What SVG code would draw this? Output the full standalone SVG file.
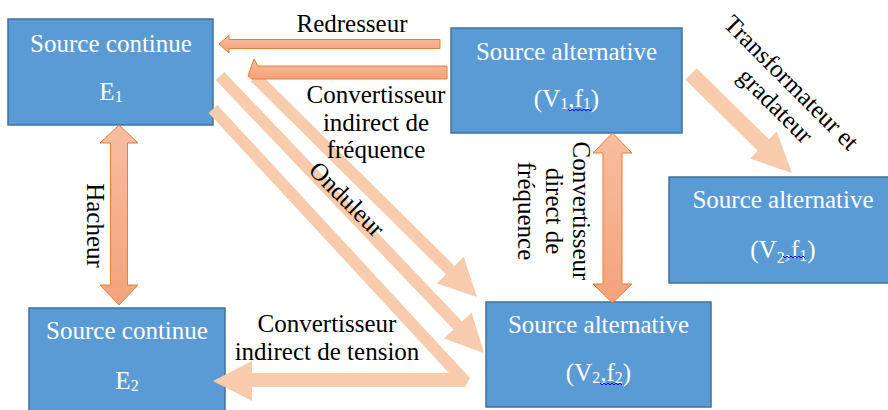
<svg xmlns="http://www.w3.org/2000/svg" width="888" height="410" viewBox="0 0 888 410">
<style>
.box{fill:#5B9BD5;stroke:#41719C;stroke-width:1.5}
.bt{font-family:"Liberation Serif","Times New Roman",serif;font-size:25px;fill:#FFFFFF;text-anchor:middle}
.lb{font-family:"Liberation Serif","Times New Roman",serif;font-size:25px;fill:#000000;text-anchor:middle}
.sub{font-size:16px}
.light{fill:#F8CBAD;stroke:none}
.dark{fill:url(#g1);stroke:#ED7D31;stroke-width:1}
.sq{fill:none;stroke:#0000FF;stroke-width:1}
</style>
<defs>
<linearGradient id="g1" x1="0" y1="0" x2="0" y2="1">
<stop offset="0" stop-color="#F6BEA1"/>
<stop offset="1" stop-color="#F4A27B"/>
</linearGradient>
</defs>
<rect width="888" height="410" fill="#FFFFFF"/>

<g id="n1">
<rect class="box" x="8" y="19" width="205" height="106"/>
<text class="bt" x="111" y="52">Source continue</text>
<text class="bt" x="111" y="100">E<tspan class="sub" dy="2">1</tspan></text>
</g>
<g id="n2">
<rect class="box" x="451" y="28" width="231" height="105"/>
<text class="bt" x="566.5" y="60">Source alternative</text>
<text class="bt" x="566.5" y="107">(V<tspan class="sub" dy="2">1</tspan><tspan dy="-2">,f</tspan><tspan class="sub" dy="2">1</tspan><tspan dy="-2">)</tspan></text>
<path class="sq" d="M568,109 l2,2 l2,-2 l2,2 l2,-2 l2,2 l2,-2 l2,2 l2,-2 l2,2 l2,-2 l2,2 l2,-2"/>
</g>
<g id="n3">
<rect class="box" x="669" y="177" width="235" height="106"/>
<text class="bt" x="783" y="208">Source alternative</text>
<text class="bt" x="783" y="258">(V<tspan class="sub" dy="5">2</tspan><tspan dy="-5">,f</tspan><tspan class="sub" dy="3">1</tspan><tspan dy="-3">)</tspan></text>
<path class="sq" d="M783,256 l2,2 l2,-2 l2,2 l2,-2 l2,2 l2,-2 l2,2 l2,-2 l2,2 l2,-2 l2,2"/>
</g>
<g id="n4">
<rect class="box" x="29" y="308" width="196" height="110"/>
<text class="bt" x="127" y="339">Source continue</text>
<text class="bt" x="127" y="389">E<tspan class="sub" dy="2">2</tspan></text>
</g>
<g id="n5">
<rect class="box" x="486" y="302" width="225" height="105"/>
<text class="bt" x="598.5" y="333">Source alternative</text>
<text class="bt" x="598.5" y="381">(V<tspan class="sub" dy="2">2</tspan><tspan dy="-2">,f</tspan><tspan class="sub" dy="2">2</tspan><tspan dy="-2">)</tspan></text>
<path class="sq" d="M600,383 l2,2 l2,-2 l2,2 l2,-2 l2,2 l2,-2 l2,2 l2,-2 l2,2 l2,-2 l2,2"/>
</g>

<g id="connectors">
<g id="c-redresseur">
<polygon class="dark" points="219,44 229,35.5 229,39.5 440,39.5 440,48.5 229,48.5 229,53"/>
<text class="lb" x="352" y="32">Redresseur</text>
</g>
<g id="c-indirect-frequence">
<polygon class="light" points="259.3,72.8 454.5,265.9 463.7,256.7 477,297 436.7,283.5 445.9,274.3 250.7,81.2"/>
<polygon class="dark" points="254,59 258,66 447,66 447,79 252,79 248,76"/>
<text class="lb" x="376" y="103">Convertisseur</text>
<text class="lb" x="376" y="130.5">indirect de</text>
<text class="lb" x="376" y="158">fréquence</text>
</g>
<g id="c-onduleur">
<polygon class="light" points="224.3,71.9 462.1,321.4 471.6,312.4 484,353 444,338.6 453.5,329.6 215.7,80.1"/>
<text class="lb" transform="translate(341,205) rotate(45)" x="0" y="0">Onduleur</text>
</g>
<g id="c-indirect-tension">
<polygon class="light" points="213,381 252,361 252,373 449,373 208.6,113.1 217.4,104.9 470,378 465,387 252,387 252,401"/>
<text class="lb" x="327" y="332">Convertisseur</text>
<text class="lb" x="327" y="360">indirect de tension</text>
</g>
<g id="c-hacheur">
<polygon class="dark" points="119,125 138,143 127.5,143 127.5,285 138,285 119,305 100,285 110.5,285 110.5,143 100,143"/>
<text class="lb" transform="translate(87,225.5) rotate(90)" x="0" y="0">Hacheur</text>
</g>
<g id="c-direct-frequence">
<polygon class="dark" points="612.5,133 632,153 622,153 622,284 632,284 612.5,303 593,284 603,284 603,153 593,153"/>
<g transform="translate(573,211) rotate(90)">
<text class="lb" x="0" y="0">Convertisseur</text>
<text class="lb" x="0" y="27.5">direct de</text>
<text class="lb" x="0" y="55">fréquence</text>
</g>
</g>
<g id="c-transformateur">
<polygon class="light" points="696.6,68.3 769,139.3 776.7,131.4 792,173 750.1,158.6 757.8,150.7 685.4,79.7"/>
<g transform="translate(785.5,88.5) rotate(45)">
<text class="lb" x="0" y="0">Transformateur et</text>
<text class="lb" x="5" y="27.5">gradateur</text>
</g>
</g>
</g>
</svg>
